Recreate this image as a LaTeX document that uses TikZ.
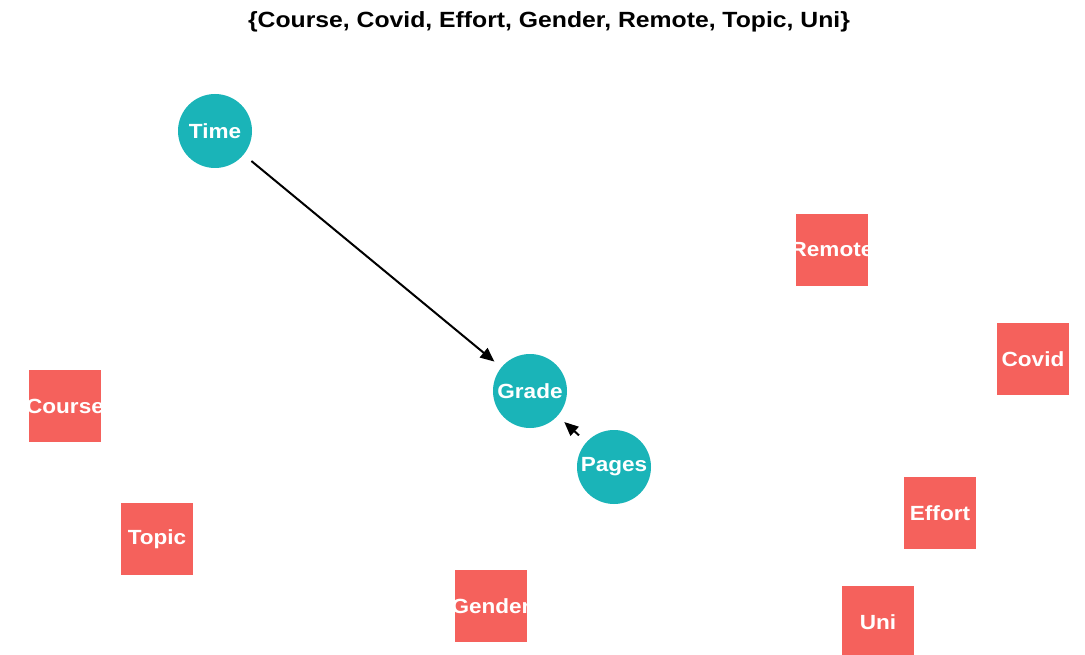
\documentclass[tikz,border=0pt]{standalone}
\usepackage{fontspec}
\setmainfont{Liberation Sans}
\usetikzlibrary{arrows.meta}
\definecolor{teal1}{HTML}{1AB4B8}
\definecolor{red1}{HTML}{F5615C}
\newcommand{\wide}[1]{\makebox[0pt]{\scalebox{1.1}[1]{#1}}}
\tikzset{
  obs/.style={circle,fill=teal1,draw=none,minimum size=74pt,inner sep=0pt,text=white,font=\bfseries\fontsize{20.5}{20.5}\selectfont},
  adj/.style={rectangle,fill=red1,draw=none,minimum size=72pt,inner sep=0pt,text=white,font=\bfseries\fontsize{20.5}{20.5}\selectfont},
  edge/.style={line width=2pt,-{Stealth[length=14pt,width=12pt,inset=0pt]},shorten >=9pt,shorten <=10pt}
}
\begin{document}
\begin{tikzpicture}[x=1pt,y=-1pt]
\useasboundingbox[fill=white] (0,0) rectangle (1085,655);
\node[font=\bfseries\fontsize{22}{22}\selectfont] (title) at (549,22) {\scalebox{1.125}[1]{\{Course, Covid, Effort, Gender, Remote, Topic, Uni\}}};
\node[obs] (time) at (215,131) {\wide{Time}};
\node[obs] (grade) at (530,391) {\wide{Grade}};
\node[obs] (pages) at (614,467) {\wide{Pages}};
\node[adj] (course) at (65,406) {\wide{Course}};
\node[adj] (topic) at (157,539) {\wide{Topic}};
\node[adj] (gender) at (491,606) {\wide{Gender}};
\node[adj] (remote) at (832,250) {\wide{Remote}};
\node[adj] (covid) at (1033,359) {\wide{Covid}};
\node[adj] (effort) at (940,513) {\wide{Effort}};
\node[adj] (uni) at (878,622) {\wide{Uni}};
\draw[edge] (time) -- (grade);
\draw[edge] (pages) -- (grade);
\end{tikzpicture}
\end{document}
